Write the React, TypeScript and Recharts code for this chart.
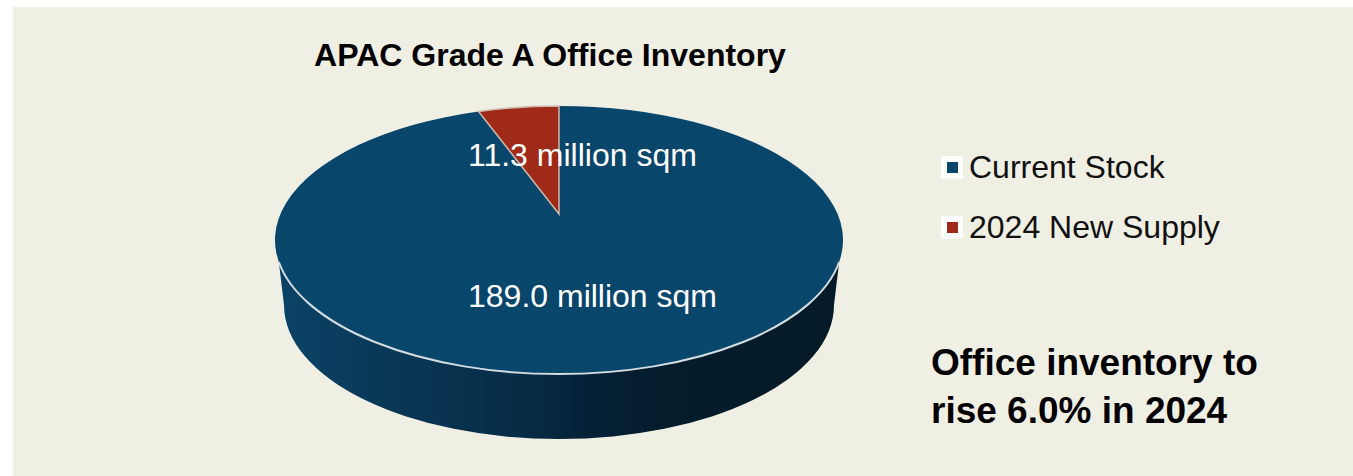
import { Legend, Pie, PieChart } from "recharts"

const categories = ["Current Stock", "2024 New Supply"]
const values = [189.0, 11.3]
const colors = ["#09466C", "#9E2A17"]

const chartData = categories.map((name, i) => ({ name, value: values[i] }))

const FONT = '"Liberation Sans", Arial, sans-serif'
const CX = 559
const CY = 240
const RADIUS = 284
const TILT = 0.472
const APEX = 0.194 // perspective shifts the slice point above the ellipse centre

// where a ray leaving the apex at this angle hits the rim
const rimPoint = (deg: number, cx: number, cy: number, rx: number, ry: number) => {
  const a = (deg * Math.PI) / 180
  const s = Math.sin(a)
  const t = -APEX * s + Math.sqrt(APEX * APEX * s * s - APEX * APEX + 1)
  return { x: cx + rx * t * Math.cos(a), y: cy - ry * (APEX + t * s) }
}

const TopSlice = (props: any) => {
  const { cx, cy, outerRadius, startAngle, endAngle, fill, index } = props
  const rx = outerRadius
  const ry = outerRadius * TILT
  const p1 = rimPoint(startAngle, cx, cy, rx, ry)
  const p2 = rimPoint(endAngle, cx, cy, rx, ry)
  const large = Math.abs(startAngle - endAngle) > 180 ? 1 : 0
  const apexY = cy - ry * APEX
  const d = `M${cx},${apexY}L${p1.x},${p1.y}A${rx},${ry} 0 ${large} 1 ${p2.x},${p2.y}Z`
  const edgeDy = 22
  const edgeDx = rx * Math.sqrt(1 - (edgeDy / ry) ** 2)
  return (
    <g>
      <path d={d} fill={fill} stroke={index === 1 ? "#CDB9AC" : "none"} strokeWidth={1.5} />
      {index === 0 && (
        <path
          d={`M${cx - edgeDx},${cy + edgeDy}A${rx},${ry} 0 0 0 ${cx + edgeDx},${cy + edgeDy}`}
          fill="none"
          stroke="#D3DCE0"
          strokeWidth={2}
        />
      )}
    </g>
  )
}

const SideWall = (props: any) => {
  const { cx, cy, outerRadius, index } = props
  if (index !== 0) return null
  const rx = outerRadius
  const ry = outerRadius * TILT
  const edgeDy = 22
  const edgeDx = rx * Math.sqrt(1 - (edgeDy / ry) ** 2)
  const lowRx = rx - 9
  const lowY = cy + 65
  const d =
    `M${cx - edgeDx},${cy + edgeDy}A${rx},${ry} 0 0 0 ${cx + edgeDx},${cy + edgeDy}` +
    `L${cx + lowRx},${lowY}A${lowRx},${ry} 0 0 1 ${cx - lowRx},${lowY}Z`
  return <path d={d} fill="url(#sideShade)" />
}

const renderValueLabel = (props: any) => {
  const { index, value } = props
  return (
    <text x={468} y={index === 0 ? 307 : 166} fill="#FFFFFF" fontSize={32} fontFamily={FONT}>
      {`${value.toFixed(1)} million sqm`}
    </text>
  )
}

const LegendList = () => (
  <div style={{ fontFamily: FONT, fontSize: 32, color: "#111" }}>
    {categories.map((name, i) => (
      <div key={name} style={{ display: "flex", alignItems: "center", height: 60 }}>
        <span
          style={{
            width: 22,
            height: 23,
            background: "#fff",
            borderRadius: 3,
            display: "flex",
            alignItems: "center",
            justifyContent: "center",
            marginRight: 6,
          }}
        >
          <span style={{ width: 11, height: 11, background: colors[i] }} />
        </span>
        {name}
      </div>
    ))}
  </div>
)

export default function App() {
  return (
    <div style={{ position: "absolute", left: 0, top: 0, width: 1353, height: 476, background: "#fff", overflow: "hidden" }}>
      <div style={{ position: "absolute", left: 13, top: 7, right: 0, bottom: 0, background: "#F0EFE4" }} />
      <PieChart width={1353} height={476} margin={{ top: 0, right: 0, bottom: 0, left: 0 }} style={{ position: "absolute", left: 0, top: 0 }}>
        <defs>
          <linearGradient id="sideShade" gradientUnits="userSpaceOnUse" x1={277} x2={841} y1={0} y2={0}>
            <stop offset="0" stopColor="#0A4368" />
            <stop offset="0.12" stopColor="#0A3C5C" />
            <stop offset="0.3" stopColor="#08324F" />
            <stop offset="0.46" stopColor="#062A43" />
            <stop offset="0.55" stopColor="#042136" />
            <stop offset="0.68" stopColor="#041C2C" />
            <stop offset="1" stopColor="#041A28" />
          </linearGradient>
        </defs>
        <text x={550} y={66} textAnchor="middle" fontSize={32} fontWeight="bold" fontFamily={FONT} fill="#000">
          APAC Grade A Office Inventory
        </text>
        <Pie
          data={chartData}
          dataKey="value"
          nameKey="name"
          cx={CX}
          cy={CY}
          outerRadius={RADIUS}
          startAngle={90}
          endAngle={-270}
          stroke="none"
          legendType="none"
          shape={SideWall}
          isAnimationActive={false}
        />
        <Pie
          data={chartData.map((d, i) => ({ ...d, fill: colors[i] }))}
          dataKey="value"
          nameKey="name"
          cx={CX}
          cy={CY}
          outerRadius={RADIUS}
          startAngle={90}
          endAngle={-270}
          stroke="none"
          shape={TopSlice}
          label={renderValueLabel}
          labelLine={false}
          isAnimationActive={false}
        />
        <Legend content={<LegendList />} wrapperStyle={{ position: "absolute", left: 941, top: 137, width: 320, bottom: "auto" }} />
        <text fontSize={37} fontWeight="bold" fontFamily={FONT} fill="#000">
          <tspan x={931} y={375}>Office inventory to</tspan>
          <tspan x={931} y={423}>rise 6.0% in 2024</tspan>
        </text>
      </PieChart>
    </div>
  )
}
